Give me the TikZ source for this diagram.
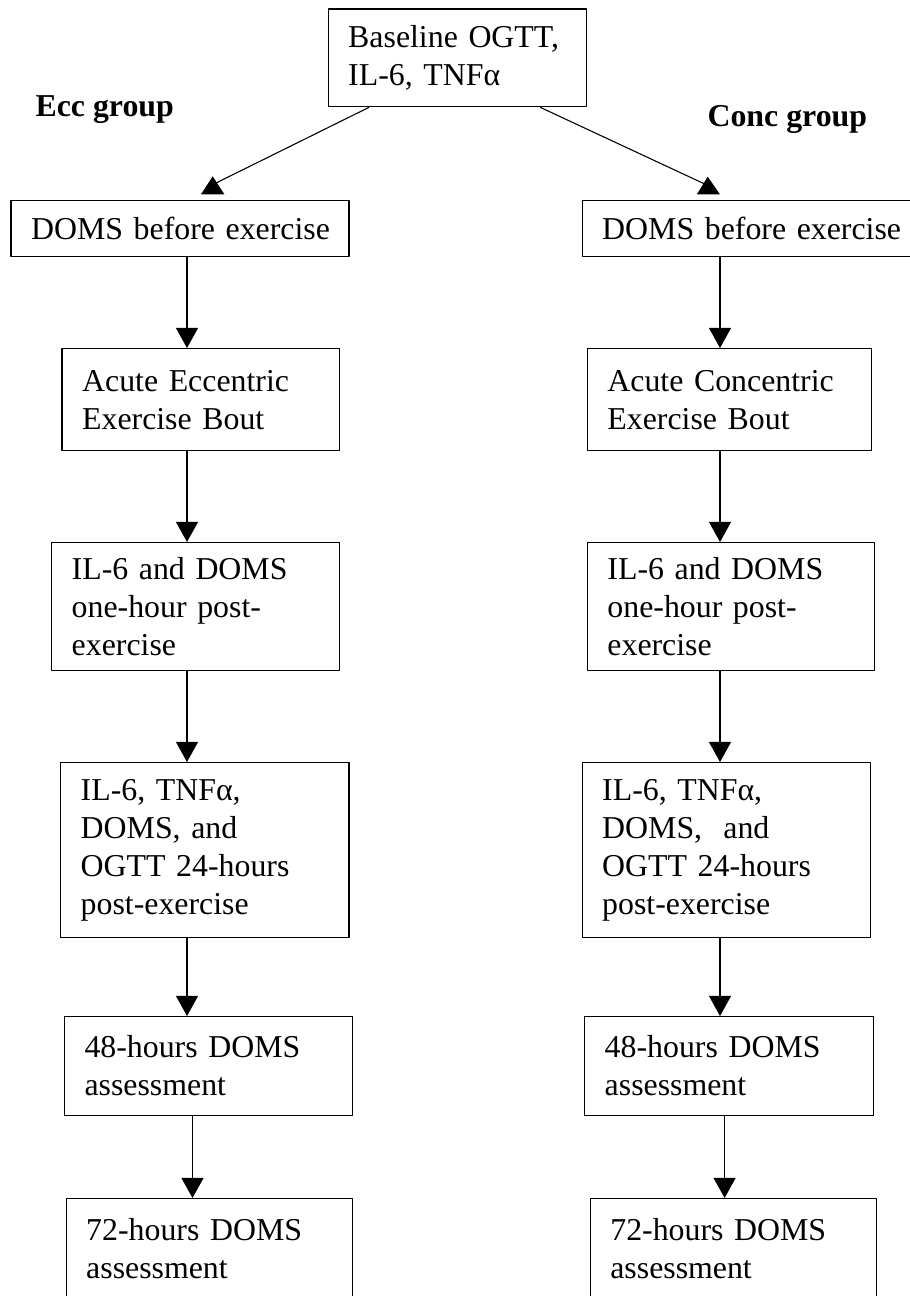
\documentclass[tikz,border=0pt]{standalone}
\usepackage{fontspec}
\setmainfont{Liberation Serif}
\usetikzlibrary{arrows.meta}
\def\pxl{0.369pt}
\begin{document}
\begin{tikzpicture}[x=0.369pt, y=-0.369pt, font=\fontsize{11.75}{14}\selectfont, line join=round, >=Triangle,
	box/.style 2 args={draw, line width=0.5pt, anchor=north west, align=left, inner xsep=7.4pt, inner ysep=0pt, text width={#1*\pxl-14.8pt}, minimum height={#2*\pxl}},
	arr/.style={-{Triangle[length=7.4pt,width=8.1pt]}, line width=0.4pt},
	grp/.style={font=\fontsize{11.75}{14}\selectfont\bfseries, inner sep=0pt, anchor=base west}]
	\useasboundingbox (0,0) rectangle (909,1296);
	% boxes
	\node[box={258}{97.7}] (base) at (327.5,8.3) {Baseline OGTT,\\IL-6, TNFα};
	\node[grp] (ecc) at (35,117) {Ecc group};
	\node[grp] (conc) at (707,126.5) {Conc group};
	\node[box={338}{56}] (domsL) at (10.4,200) {\mbox{DOMS before exercise}};
	\node[box={336.5}{56}] (domsR) at (581.5,200) {\mbox{DOMS before exercise}};
	\node[box={277.2}{102}] (boutL) at (61.4,348) {Acute Eccentric\\Exercise Bout};
	\node[box={284}{102}] (boutR) at (586.7,348) {Acute Concentric\\Exercise Bout};
	\node[box={287.6}{128}] (ilL) at (51,542) {IL-6 and DOMS\\one-hour post-\\exercise};
	\node[box={287.3}{128}] (ilR) at (586.7,542) {IL-6 and DOMS\\one-hour post-\\exercise};
	\node[box={288.4}{175}] (tnfL) at (60,762) {IL-6, TNFα,\\DOMS, and\\OGTT 24-hours\\post-exercise};
	\node[box={288.1}{175}] (tnfR) at (581.5,762) {IL-6, TNFα,\\DOMS,~ and\\OGTT 24-hours\\post-exercise};
	\node[box={288.2}{98.7}] (h48L) at (63.8,1016) {48-hours DOMS\\assessment};
	\node[box={289}{98.7}] (h48R) at (584,1016) {48-hours DOMS\\assessment};
	\node[box={286.5}{100}] (h72L) at (65.5,1198) {72-hours DOMS\\assessment};
	\node[box={286.4}{100}] (h72R) at (589.6,1198) {72-hours DOMS\\assessment};
	% split to the two groups
	\coordinate (endL) at (212,185);
	\coordinate (endR) at (709,186);
	\draw[line width=0.4pt] ([xshift=15.3pt]base.south west) -- (endL);
	\draw[line width=0.4pt] ([xshift=-17.2pt]base.south east) -- (endR);
	\fill (212.7,176.3) -- ++(-11.7,18) -- ++(23.4,0) -- cycle;
	\fill (707.7,176.7) -- ++(-10.8,17.6) -- ++(23,0) -- cycle;
	% columns
	\coordinate (L) at (187,0);
	\coordinate (L2) at (192.5,0);
	\coordinate (R) at (720,0);
	\coordinate (R2) at (724.6,0);
	\draw[arr] (domsL.south -| L) -- (boutL.north -| L);
	\draw[arr] (boutL.south -| L) -- (ilL.north -| L);
	\draw[arr] (ilL.south -| L) -- (tnfL.north -| L);
	\draw[arr] (tnfL.south -| L) -- (h48L.north -| L);
	\draw[arr] (h48L.south -| L2) -- (h72L.north -| L2);
	\draw[arr] (domsR.south -| R) -- (boutR.north -| R);
	\draw[arr] (boutR.south -| R) -- (ilR.north -| R);
	\draw[arr] (ilR.south -| R) -- (tnfR.north -| R);
	\draw[arr] (tnfR.south -| R) -- (h48R.north -| R);
	\draw[arr] (h48R.south -| R2) -- (h72R.north -| R2);
\end{tikzpicture}
\end{document}
